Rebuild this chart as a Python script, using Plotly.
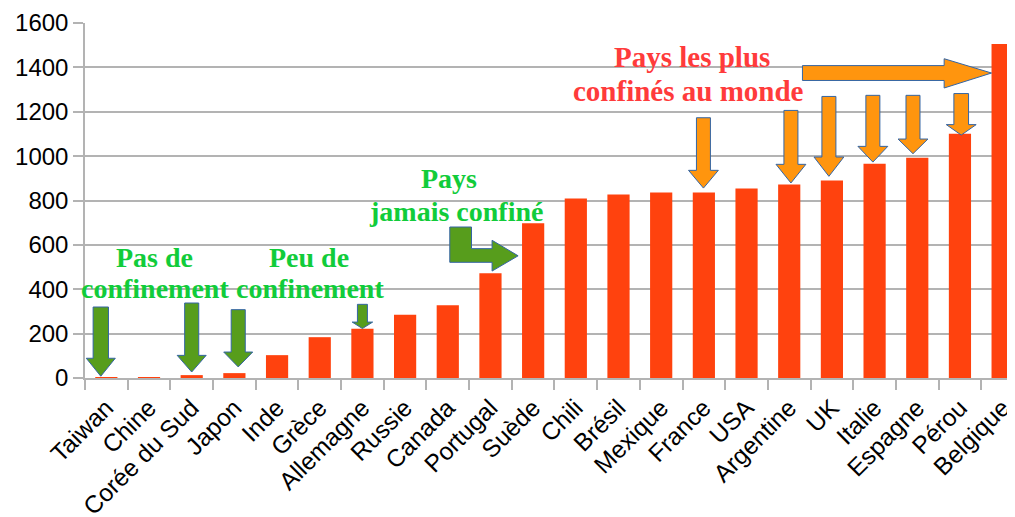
import plotly.graph_objects as go

countries = ["Taiwan", "Chine", "Corée du Sud", "Japon", "Inde", "Grèce", "Allemagne",
             "Russie", "Canada", "Portugal", "Suède", "Chili", "Brésil", "Mexique",
             "France", "USA", "Argentine", "UK", "Italie", "Espagne", "Pérou", "Belgique"]
deaths_per_million = [1, 3, 13, 22, 103, 184, 222, 285, 328, 472, 697, 809, 827, 836,
                      836, 854, 872, 890, 966, 993, 1101, 1505]
y_ticks = [0, 200, 400, 600, 800, 1000, 1200, 1400, 1600]

BAR = "#ff420e"
GREEN_FILL = "#579d1c"
ORANGE_FILL = "#ff950e"
OUTLINE = "#3465a4"
GREEN_TXT = "#11cc3a"
RED_TXT = "#ff3b3b"
GRID = "#b3b3b3"

# annotation arrows: (category position, top value, head start value, tip value, shaft half, head half)
green_down = [(-0.13, 320, 89, 8, 0.18, 0.34),
              (2.0, 338, 102, 27, 0.165, 0.34),
              (3.09, 308, 117, 50, 0.165, 0.34),
              (6.0, 332, 252, 223, 0.117, 0.24)]
orange_down = [(13.99, 1173, 936, 856, 0.164, 0.35),
               (16.04, 1206, 963, 879, 0.164, 0.35),
               (16.93, 1269, 996, 909, 0.164, 0.35),
               (17.96, 1274, 1044, 973, 0.164, 0.35),
               (18.90, 1274, 1077, 1011, 0.164, 0.35),
               (20.03, 1282, 1142, 1095, 0.172, 0.35)]

fig = go.Figure()
fig.add_trace(go.Bar(x=countries, y=deaths_per_million, marker_color=BAR,
                     marker_line_width=0, width=0.52, showlegend=False))
# invisible trace on overlay axis so it gets drawn
fig.add_trace(go.Scatter(x=[0], y=[0], xaxis="x2", mode="markers",
                         marker=dict(opacity=0), showlegend=False, hoverinfo="skip"))

xr = [-0.5, 21.29]


def down_arrow(cx, top, head, tip, sw, hw, fill):
    d = (f"M {cx-sw},{top} L {cx+sw},{top} L {cx+sw},{head} L {cx+hw},{head} "
         f"L {cx},{tip} L {cx-hw},{head} L {cx-sw},{head} Z")
    return dict(type="path", path=d, xref="x2", yref="y", fillcolor=fill,
                line=dict(color=OUTLINE, width=1), layer="above")


shapes = []
for a in green_down:
    shapes.append(down_arrow(*a, GREEN_FILL))
for a in orange_down:
    shapes.append(down_arrow(*a, ORANGE_FILL))

# bent arrow pointing to Suède
bent = ("M 8.047,680.5 L 8.556,680.5 L 8.556,583 L 9.038,583 L 9.038,620.6 "
        "L 9.648,550.7 L 9.038,482 L 9.038,521.4 L 8.047,521.4 Z")
shapes.append(dict(type="path", path=bent, xref="x2", yref="y", fillcolor=GREEN_FILL,
                   line=dict(color=OUTLINE, width=1), layer="above"))
# long horizontal arrow pointing to Belgique
horiz = ("M 16.31,1408 L 19.63,1408 L 19.63,1439 L 20.74,1374.5 L 19.63,1307 "
         "L 19.63,1341 L 16.31,1341 Z")
shapes.append(dict(type="path", path=horiz, xref="x2", yref="y", fillcolor=ORANGE_FILL,
                   line=dict(color=OUTLINE, width=1), layer="above"))

texts = [("Pas de", 1.13, 545, GREEN_TXT, 28),
         ("confinement", 1.13, 403, GREEN_TXT, 28),
         ("Peu de", 4.745, 545, GREEN_TXT, 28),
         ("confinement", 4.76, 403, GREEN_TXT, 28),
         ("Pays", 8.02, 899, GREEN_TXT, 28),
         ("jamais confiné", 8.19, 750, GREEN_TXT, 28),
         ("Pays les plus", 13.73, 1447, RED_TXT, 29),
         ("confinés au monde", 13.64, 1293, RED_TXT, 29)]
annotations = [dict(text=f"<b>{t}</b>", x=x, y=y, xref="x2", yref="y", showarrow=False,
                    xanchor="center", yanchor="middle",
                    font=dict(family="Liberation Serif", size=s, color=c))
               for t, x, y, c, s in texts]

fig.update_layout(
    width=1007, height=509, autosize=False,
    margin=dict(l=77.3, r=0, t=14.7, b=139.3, pad=0, autoexpand=False),
    plot_bgcolor="white", paper_bgcolor="white",
    bargap=0.48,
    font=dict(family="Liberation Sans", color="black"),
    xaxis=dict(type="category", range=xr, tickson="boundaries", ticks="outside",
               ticklen=10, tickwidth=1.5, tickcolor=GRID, showline=True, linecolor=GRID,
               linewidth=1.5, showgrid=False, tickangle=-45, ticklabelstandoff=4,
               automargin=False,
               tickfont=dict(family="Liberation Sans", size=24.5, color="black")),
    xaxis2=dict(overlaying="x", range=xr, visible=False, showgrid=False, zeroline=False),
    yaxis=dict(range=[0, 1600], tickvals=y_ticks, ticks="outside", ticklen=10,
               tickwidth=1.5, tickcolor=GRID, showline=True, linecolor=GRID, linewidth=1.5,
               showgrid=True, gridcolor=GRID, gridwidth=1.5, zeroline=False,
               automargin=False,
               tickfont=dict(family="Liberation Sans", size=24, color="black")),
    shapes=shapes, annotations=annotations,
)

fig.write_html("out.html")
